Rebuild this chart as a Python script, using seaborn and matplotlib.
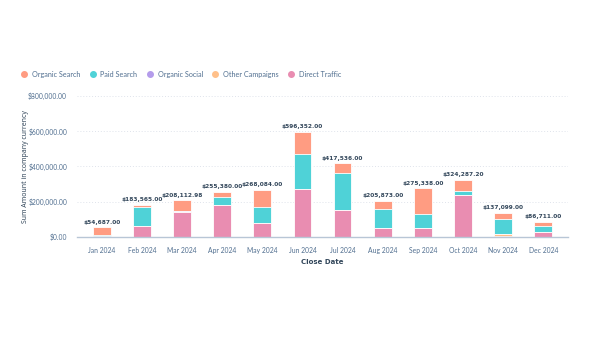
import matplotlib
matplotlib.use("Agg")
import matplotlib.pyplot as plt
from matplotlib.lines import Line2D
from matplotlib.ticker import FuncFormatter
import seaborn as sns
import pandas as pd
import numpy as np

months = ["Jan 2024", "Feb 2024", "Mar 2024", "Apr 2024", "May 2024", "Jun 2024",
          "Jul 2024", "Aug 2024", "Sep 2024", "Oct 2024", "Nov 2024", "Dec 2024"]
totals = [54687.00, 183565.00, 208112.98, 255380.00, 268084.00, 596352.00,
          417536.00, 205873.00, 275338.00, 324287.20, 137099.00, 86711.00]
direct_traffic = [2000, 61000, 143000, 183000, 80000, 274000, 154000, 53000, 49000, 236000, 7000, 26000]
other_campaigns = [0, 0, 0, 0, 0, 0, 0, 0, 0, 0, 9000, 0]
organic_social = [4000, 0, 4000, 0, 0, 0, 0, 0, 0, 0, 0, 0]
paid_search = [3000, 108000, 0, 43000, 89000, 194000, 208000, 103000, 84000, 25000, 83000, 35000]
organic_search = [45687, 14565, 61112.98, 29380, 99084, 128352, 55536, 49873, 142338, 63287.20, 38099, 25711]

series_names = ["Organic Search", "Paid Search", "Organic Social", "Other Campaigns", "Direct Traffic"]
series_vals = [organic_search, paid_search, organic_social, other_campaigns, direct_traffic]
colors = {"Organic Search": "#FF9C82", "Paid Search": "#4FD2D7", "Organic Social": "#B49CEB",
          "Other Campaigns": "#FFC08A", "Direct Traffic": "#E98DB1"}

sns.set_theme(style="white")
plt.rcParams["font.family"] = ["Lato", "DejaVu Sans"]

stack_order = ["Direct Traffic", "Other Campaigns", "Organic Social", "Paid Search", "Organic Search"]
cum = np.zeros(len(months))
cums = {}
for name in stack_order:
    cum = cum + np.array(series_vals[series_names.index(name)], dtype=float)
    cums[name] = cum.copy()

fig = plt.figure(figsize=(6.0, 3.38), dpi=100)
ax = fig.add_axes([0.128, 0.299, 0.819, 0.417])

for name in reversed(stack_order):
    d = pd.DataFrame({"month": months, "val": cums[name]})
    sns.barplot(data=d, x="month", y="val", color=colors[name], width=0.44,
                edgecolor="white", linewidth=0.6, saturation=1, ax=ax)

ax.set_ylim(0, 800000)
ax.set_xlim(-0.62, 11.62)
ax.set_yticks([0, 200000, 400000, 600000, 800000])
ax.yaxis.set_major_formatter(FuncFormatter(lambda v, p: f"${v:,.2f}"))
ax.tick_params(axis="both", labelsize=4.9, colors="#516f90", length=0, pad=7)
ax.yaxis.grid(True, linestyle=(0, (1, 2)), color="#dfe3eb", linewidth=0.7)
ax.set_axisbelow(True)
for s in ["top", "right", "left"]:
    ax.spines[s].set_visible(False)
ax.spines["bottom"].set_color("#b8c6d6")
ax.spines["bottom"].set_linewidth(1.0)

for i, t in enumerate(totals):
    ax.text(i, t + 14000, f"${t:,.2f}", ha="center", va="bottom", fontsize=4.2,
            fontweight="bold", color="#33475b", family=["DejaVu Sans"])

ax.set_xlabel("Close Date", fontsize=5.0, fontweight="bold", color="#33475b", labelpad=4,
              family=["DejaVu Sans"])
ax.set_ylabel("")
fig.text(0.042, 0.507, "Sum Amount in company currency", rotation=90, ha="center", va="center",
         fontsize=5.0, color="#33475b", family=["Noto Sans", "DejaVu Sans"])

handles = [Line2D([0], [0], marker="o", linestyle="", markersize=4, markerfacecolor=colors[n],
                  markeredgecolor=colors[n]) for n in series_names]
fig.legend(handles, series_names, loc="center left", bbox_to_anchor=(0.017, 0.781), ncol=5,
           frameon=False, fontsize=5.2, handletextpad=0.1, columnspacing=0.7,
           labelcolor="#516f90")

fig.savefig("out.png", dpi=100, facecolor="white")
